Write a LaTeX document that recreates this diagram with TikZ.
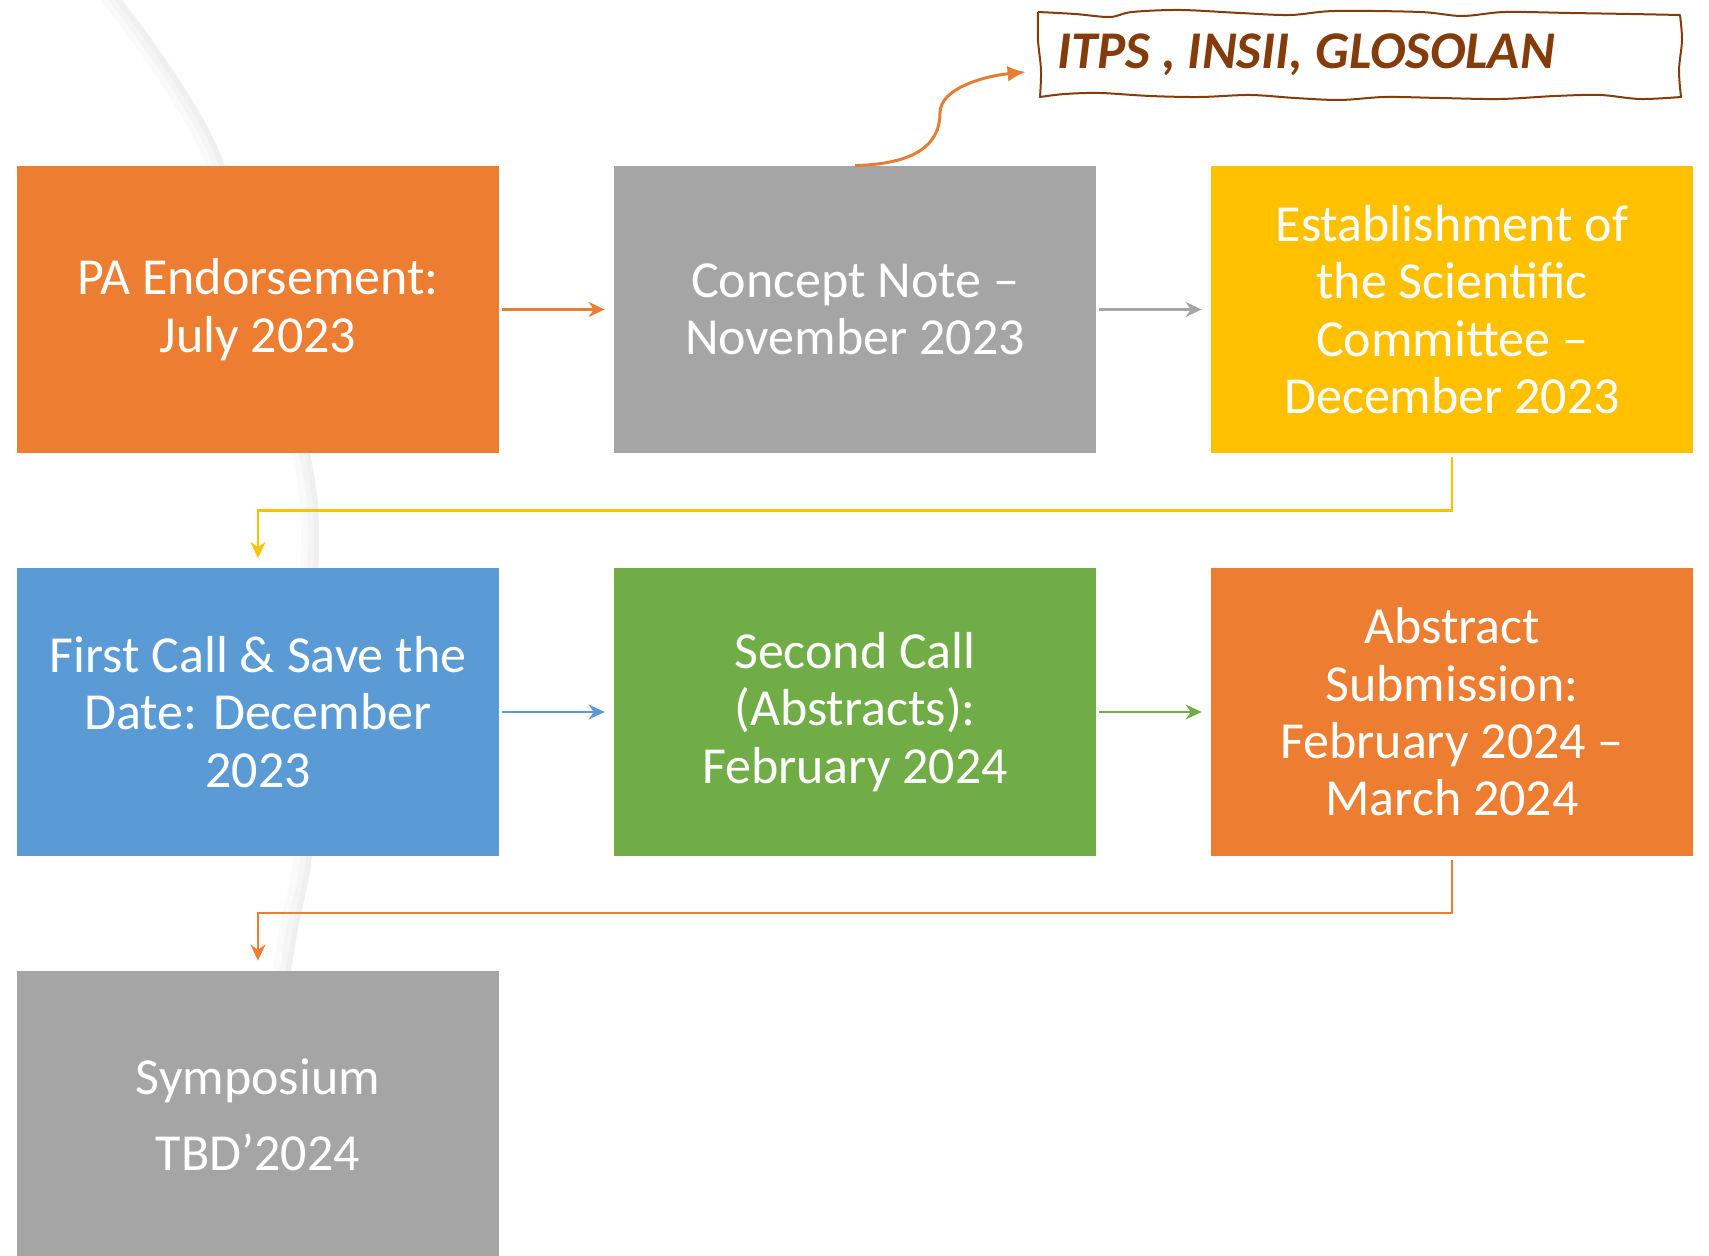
\documentclass[tikz,border=0pt]{standalone}
\usepackage{fontspec}
\setmainfont{Carlito}
\usepackage{xcolor}
\usepackage{tikz}
\usetikzlibrary{positioning}
\usetikzlibrary{calc}
\usetikzlibrary{arrows.meta}
\tikzset{>=Stealth}
\definecolor{stOrange}{HTML}{ED7D31}
\definecolor{stGray}{HTML}{A5A5A5}
\definecolor{stYellow}{HTML}{FFC000}
\definecolor{stBlue}{HTML}{5B9BD5}
\definecolor{stGreen}{HTML}{70AD47}
\definecolor{stBrown}{HTML}{843C0C}
\tikzstyle{line} = [draw, -{Stealth[length=8pt,width=7.5pt]}, line width=1.2pt]

\begin{document}
\begin{tikzpicture}[x=0.5pt, y=-0.5pt,
            stage/.style={rectangle, minimum width=241pt, minimum height=143.5pt,
            inner sep=0pt, text=white, align=center,
            font=\fontsize{26}{28.7}\selectfont},
            tag/.style={rectangle, text=stBrown, minimum width=321pt,
            minimum height=43.5pt, inner sep=0pt,
            font=\fontsize{26.5}{30}\selectfont\bfseries\itshape},
            wavy/.style={draw=stBrown, line width=1pt, line join=round}]
            \useasboundingbox (0,0) rectangle (1709,1256);
            %% background swoosh
            \foreach \w/\c in {18/2,11/4,5/6}
                \draw[black!\c, line width=\w*0.5pt, xshift=-\w*0.25pt]
                    plot[smooth] coordinates {(105,-20) (218,150) (310,455) (318,600) (313,840) (297,933) (270,1100)};
            %% Stages
            \node[stage, fill=stOrange] (pa) at (258,309.5) {PA Endorsement:\\July 2023};
            \node[stage, fill=stGray] (cn) at (855,309.5) {Concept Note --\\November 2023};
            \node[stage, fill=stYellow] (sc) at (1452,309.5) {Establishment of\\the Scientific\\Committee --\\December 2023};
            \node[stage, fill=stBlue] (fc) at (258,712) {First Call \& Save the\\Date: December\\2023};
            \node[stage, fill=stGreen] (ab) at (855,712) {Second Call\\(Abstracts):\\February 2024};
            \node[stage, fill=stOrange] (sub) at (1452,712) {Abstract\\Submission:\\February 2024 --\\March 2024};
            \node[stage, fill=stGray] (sym) at (258,1114.5) {Symposium\\[9.3pt]TBD’2024};
            \node[tag] (itps) at (1359,54.5) {\makebox[302pt][l]{ITPS , INSII, GLOSOLAN}};
            %% hand-drawn frame of the tag
            \draw[wavy] plot[smooth, tension=0.55] coordinates {
                (1038,12) (1075,14) (1110,17) (1132,12) (1180,10) (1240,13) (1290,15)
                (1335,11) (1420,12) (1462,16) (1505,12) (1570,13) (1630,14) (1680,15)}
                -- plot[smooth, tension=0.55] coordinates {(1680,15) (1682,40) (1679,70) (1681,97)}
                -- plot[smooth, tension=0.55] coordinates {
                (1681,97) (1640,99) (1600,95) (1555,96) (1500,99) (1440,98) (1385,97)
                (1340,100) (1295,98) (1250,95) (1200,97) (1150,96) (1100,93) (1065,94) (1040,97)}
                -- plot[smooth, tension=0.55] coordinates {(1040,97) (1041,70) (1038,40) (1038,12)};
            %% Flows
            \path [line, stOrange, shorten <=1.5pt, shorten >=4.5pt] (pa) -- (cn);
            \path [line, stGray, shorten <=1.5pt, shorten >=4.5pt] (cn) -- (sc);
            \path [line, stYellow, shorten <=2pt, shorten >=5pt] (sc.south) -- ++(0,57) -| (fc.north);
            \path [line, stBlue, shorten <=1.5pt, shorten >=4.5pt] (fc) -- (ab);
            \path [line, stGreen, shorten <=1.5pt, shorten >=4.5pt] (ab) -- (sub);
            \path [line, stOrange, shorten <=2pt, shorten >=5pt] (sub.south) -- ++(0,57) -| (sym.north);
            %%
            \coordinate (kink) at (940,113);
            \path [line, stOrange!85!brown, line width=1.5pt, -{Latex[length=9pt,width=8pt]}]
                (cn.north) .. controls (915,164) and (940,145) .. (kink)
                .. controls (940,88) and (985,76) .. ($(itps.west)+(-12,17.5)$);
        \end{tikzpicture}
\end{document}
